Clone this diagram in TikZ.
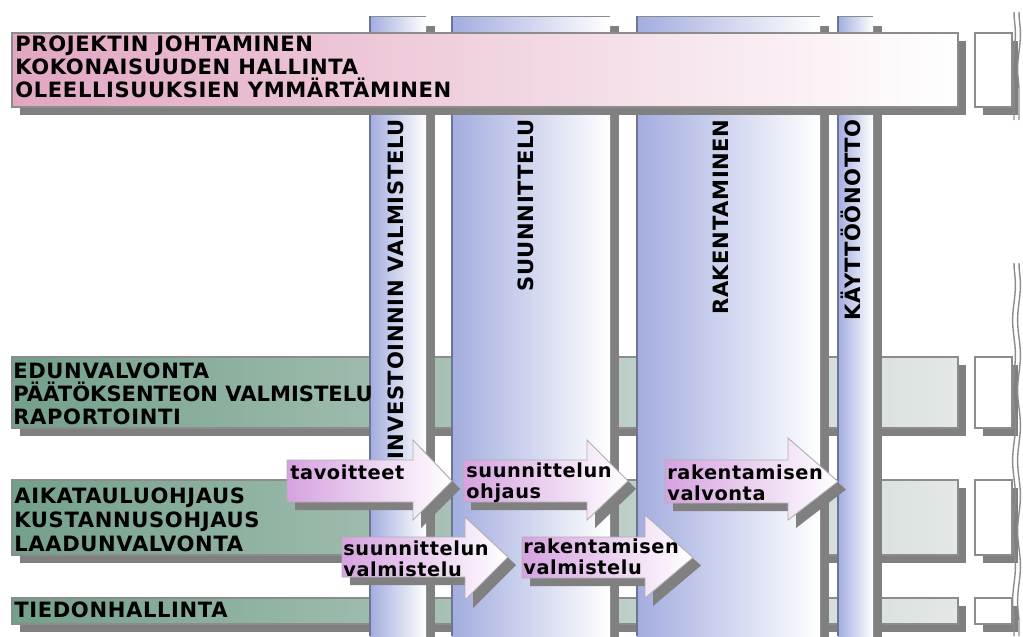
\documentclass[tikz,border=0pt]{standalone}
\usepackage{fontspec}
\setmainfont{DejaVu Sans}[LetterSpace=3]
\usetikzlibrary{decorations.pathmorphing}
\definecolor{phaseblue}{HTML}{A3ADDF}
\definecolor{phaseedge}{HTML}{6E7594}
\definecolor{mgmtpink}{HTML}{E2A6C2}
\definecolor{ctrlgreen}{HTML}{73A08A}
\definecolor{ctrlgrey}{HTML}{E4E8E6}
\definecolor{flowviolet}{HTML}{D6A2E0}
\definecolor{shadowgrey}{HTML}{808080}
\definecolor{edgegrey}{HTML}{8C8C8C}

\tikzset{
  edge/.style={draw=edgegrey, line width=0.6pt},
  rowlabel/.style={anchor=north west, inner sep=0pt, align=left,
    font=\bfseries\fontsize{12}{13.3}\selectfont},
  phaselabel/.style={anchor=east, rotate=90, inner sep=0pt,
    font=\bfseries\fontsize{12}{13}\selectfont},
  flowlabel/.style={anchor=north west, inner sep=0pt, align=left,
    font=\bfseries\fontsize{11}{12}\selectfont},
  breakline/.style={draw=edgegrey, line width=0.8pt, decorate,
    decoration={snake, amplitude=0.8pt, segment length=40pt}}
}

\begin{document}
\begin{tikzpicture}[x=0.02cm, y=-0.02cm]
  \useasboundingbox (0,0) rectangle (1023,636);

  % control rows, under the phases
  \foreach \ya/\yb in {357/428, 480/555, 598/624} {
    \fill[shadowgrey] (20,\ya+8) rectangle (966,\yb+8);
    \path[left color=ctrlgreen, right color=ctrlgrey, edge] (12,\ya) rectangle (958,\yb);
    \fill[shadowgrey] (983,\ya+8) rectangle (1018,\yb+8);
    \draw[edge, fill=white] (975,\ya) rectangle (1012,\yb);
  }

  % phases
  \foreach \xa/\xb in {370/426, 452/610, 637/820, 838/873} {
    \fill[shadowgrey] (\xb,26) rectangle (\xb+9,640);
    \fill[left color=phaseblue, right color=white] (\xa,16) rectangle (\xb,636);
    \draw[edgegrey] (\xa,16) -- (\xb,16);
    \draw[phaseedge, line width=0.8pt] (\xa,636) -- (\xa,16);
  }
  \node[phaselabel] (prep) at (396,119) {INVESTOINNIN VALMISTELU};
  \node[phaselabel] (design) at (526,119) {SUUNNITTELU};
  \node[phaselabel] (build) at (721,119) {RAKENTAMINEN};
  \node[phaselabel] (handover) at (851,119) {KÄYTTÖÖNOTTO};

  \node[rowlabel] (advocacy) at (13,362)
    {EDUNVALVONTA\\{\addfontfeature{LetterSpace=0}PÄÄTÖKSENTEON VALMISTELU}\\RAPORTOINTI};
  \node[rowlabel] (control) at (14,487)
    {AIKATAULUOHJAUS\\[0.5pt]KUSTANNUSOHJAUS\\[0.5pt]LAADUNVALVONTA};
  \node[rowlabel] (info) at (14,601) {TIEDONHALLINTA};

  % management row, over the phases
  \fill[shadowgrey] (20,41) rectangle (966,115);
  \path[left color=mgmtpink, right color=white, edge] (12,33) rectangle (958,107);
  \fill[shadowgrey] (983,41) rectangle (1018,115);
  \draw[edge, fill=white] (975,33) rectangle (1012,107);
  \node[rowlabel] (mgmt) at (15,35)
    {PROJEKTIN JOHTAMINEN\\KOKONAISUUDEN HALLINTA\\OLEELLISUUKSIEN YMMÄRTÄMINEN};

  % break marks on the right
  \draw[breakline] (1014,12) -- (1014,120);
  \draw[breakline] (1019,12) -- (1019,120);
  \draw[breakline] (1014,263) -- (1014,636);
  \draw[breakline] (1019,263) -- (1019,636);

  % flow arrows
  \foreach \xa/\xb/\xt/\ya/\yb/\ha/\hb in {287/413/452/460/502/440/520,
      463/587/628/460/502/440/520, 665/788/838/460/503/438/520,
      342/465/508/537/577/517/600, 522/645/693/537/578/515/598} {
    \fill[shadowgrey, shift={(8,8)}] (\xa,\ya) -- (\xb,\ya) -- (\xb,\ha)
      -- (\xt,{(\ya+\yb)/2}) -- (\xb,\hb) -- (\xb,\yb) -- (\xa,\yb) -- cycle;
    \path[left color=flowviolet, right color=white, draw=edgegrey!70, line width=0.5pt]
      (\xa,\ya) -- (\xb,\ya) -- (\xb,\ha) -- (\xt,{(\ya+\yb)/2})
      -- (\xb,\hb) -- (\xb,\yb) -- (\xa,\yb) -- cycle;
  }
  \node[flowlabel] (goals) at (290,464) {tavoitteet};
  \node[flowlabel] (designctrl) at (466,462) {suunnittelun\\ohjaus};
  \node[flowlabel] (buildsup) at (667,464) {rakentamisen\\valvonta};
  \node[flowlabel] (designprep) at (343,540) {suunnittelun\\valmistelu};
  \node[flowlabel] (buildprep) at (523,538) {rakentamisen\\valmistelu};
\end{tikzpicture}
\end{document}
